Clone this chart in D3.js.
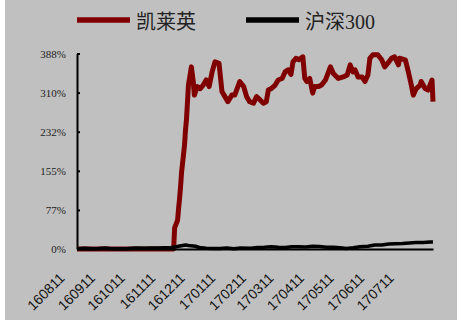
<!DOCTYPE html>
<html>
<head>
<meta charset="utf-8">
<script src="https://cdn.jsdelivr.net/npm/d3@7"></script>
<style>
  html, body { margin: 0; padding: 0; background: #fff; }
  svg { display: block; }
</style>
</head>
<body>
<svg id="chart"></svg>
<script>
// series names
var seriesNames = ["凯莱英", "沪深300"];

// 凯莱英 cumulative return (%), yymmdd
var klyDates = ["160811","161117","161118","161121","161122","161123","161124","161125","161128","161129","161130","161201","161202","161205","161207","161208","161211","161214","161217","161220","161223","161226","161229","170102","170105","170108","170111","170115","170118","170123","170127","170130","170202","170206","170209","170213","170216","170219","170221","170224","170228","170303","170307","170310","170313","170316","170318","170321","170324","170328","170330","170401","170404","170407","170409","170413","170416","170420","170425","170428","170503","170508","170512","170515","170518","170520","170523","170527","170530","170602","170604","170607","170612","170616","170619","170622","170626","170629","170703","170704","170710","170713","170716","170718","170721","170725","170726","170730","170802","170806","170807"];
var klyValues = [0,0,42,57,80,100,123,151,205,235,256,290,325,361,330,305,322,318,325,335,322,351,371,368,312,302,292,305,305,332,322,302,292,289,302,295,289,292,315,318,325,335,338,351,355,346,371,378,375,381,338,332,338,309,322,322,325,335,361,348,338,341,345,365,351,355,341,341,332,345,378,385,385,375,361,368,378,381,365,378,375,351,325,305,318,325,332,318,315,335,292];

// 沪深300 cumulative return (%)
var hsDates = ["160811","160819","160826","160902","160909","160914","160923","160930","161010","161018","161025","161101","161108","161115","161122","161129","161202","161209","161213","161220","161227","170103","170110","170117","170124","170203","170210","170217","170224","170303","170310","170317","170324","170331","170407","170414","170421","170428","170505","170511","170518","170525","170602","170609","170616","170623","170630","170707","170714","170721","170728","170804","170807"];
var hsValues = [0.5,1.5,0.5,1,2,0.5,0.5,0.5,2,1.5,2,2,2.5,3,5.5,8,7,5.5,3,1.5,1,1,2,0.5,2,1.5,3,3.5,4.5,3.5,3,4.5,4.5,4,5.5,5,3.5,3.5,2.5,1,2.5,4.5,5.5,8,8,10,10.5,11,12,13,13,14,14];

// axis labels
var yTickValues = [0, 77.5, 155, 232.5, 310, 387.5];
var yTickLabels = ["0%", "77%", "155%", "232%", "310%", "388%"];
var xTickLabels = ["160811","160911","161011","161111","161211","170111","170211","170311","170411","170511","170611","170711"];
var xStart = "160811", xEnd = "170807";

var W = 460, H = 320;
var parse = d3.timeParse("%y%m%d");
var fmt = d3.timeFormat("%y%m%d");

var svg = d3.select("#chart").attr("width", W).attr("height", H);

svg.append("rect")
    .attr("x", 5).attr("y", 0)
    .attr("width", 452).attr("height", H)
    .attr("fill", "#c0c0c0");

const xScale = d3.scaleTime()
    .domain([parse(xStart), parse(xEnd)])
    .range([77, 433]);

const yScale = d3.scaleLinear()
    .domain([0, 387.5])
    .range([249, 53.5]);

// y axis
var yAxis = svg.append("g")
    .attr("transform", "translate(77,0)")
    .call(d3.axisLeft(yScale)
        .tickValues(yTickValues)
        .tickFormat(function(d, i) { return yTickLabels[i]; })
        .tickSizeInner(-3).tickSizeOuter(0).tickPadding(11));
yAxis.select(".domain").attr("stroke", "#000").attr("stroke-width", 2);
yAxis.selectAll(".tick line").attr("stroke", "#000").attr("stroke-width", 2);
yAxis.selectAll("text")
    .attr("font-family", "'Liberation Serif', 'Times New Roman', serif")
    .attr("font-size", 11)
    .attr("fill", "#222");

var line = d3.line()
    .x(function(d) { return xScale(d.date); })
    .y(function(d) { return yScale(d.value); });

var kly = klyDates.map(function(d, i) { return { date: parse(d), value: klyValues[i] }; });
var hs = hsDates.map(function(d, i) { return { date: parse(d), value: hsValues[i] }; });

svg.append("path")
    .datum(kly)
    .attr("fill", "none")
    .attr("stroke", "#800000")
    .attr("stroke-width", 5)
    .attr("stroke-linejoin", "round")
    .attr("d", line);

// x axis
var xAxis = svg.append("g")
    .attr("transform", "translate(0,249)")
    .call(d3.axisBottom(xScale)
        .tickValues(xTickLabels.map(parse))
        .tickFormat(fmt)
        .tickSize(0).tickPadding(0));
xAxis.select(".domain").attr("stroke", "#000").attr("stroke-width", 2);
xAxis.selectAll("text")
    .attr("font-family", "'Liberation Sans', Arial, sans-serif")
    .attr("font-size", 14)
    .attr("fill", "#111")
    .attr("text-anchor", "end")
    .attr("dy", null)
    .attr("y", 0)
    .attr("transform", "translate(-12,30) rotate(-45)");

svg.append("path")
    .datum(hs)
    .attr("fill", "none")
    .attr("stroke", "#000")
    .attr("stroke-width", 3.5)
    .attr("stroke-linejoin", "round")
    .attr("d", line);

// legend
var legend = svg.append("g");
var legendItems = [
  { name: seriesNames[0], color: "#800000", x: 77 },
  { name: seriesNames[1], color: "#000", x: 246 }
];
legendItems.forEach(function(d) {
  legend.append("line")
      .attr("x1", d.x).attr("x2", d.x + 53)
      .attr("y1", 20).attr("y2", 20)
      .attr("stroke", d.color).attr("stroke-width", 5.5);
  legend.append("text")
      .attr("x", d.x + 59).attr("y", 29)
      .attr("font-family", "'Liberation Serif', 'Noto Sans CJK SC', serif")
      .attr("font-size", 20)
      .attr("fill", "#222")
      .text(d.name);
});
</script>
</body>
</html>
